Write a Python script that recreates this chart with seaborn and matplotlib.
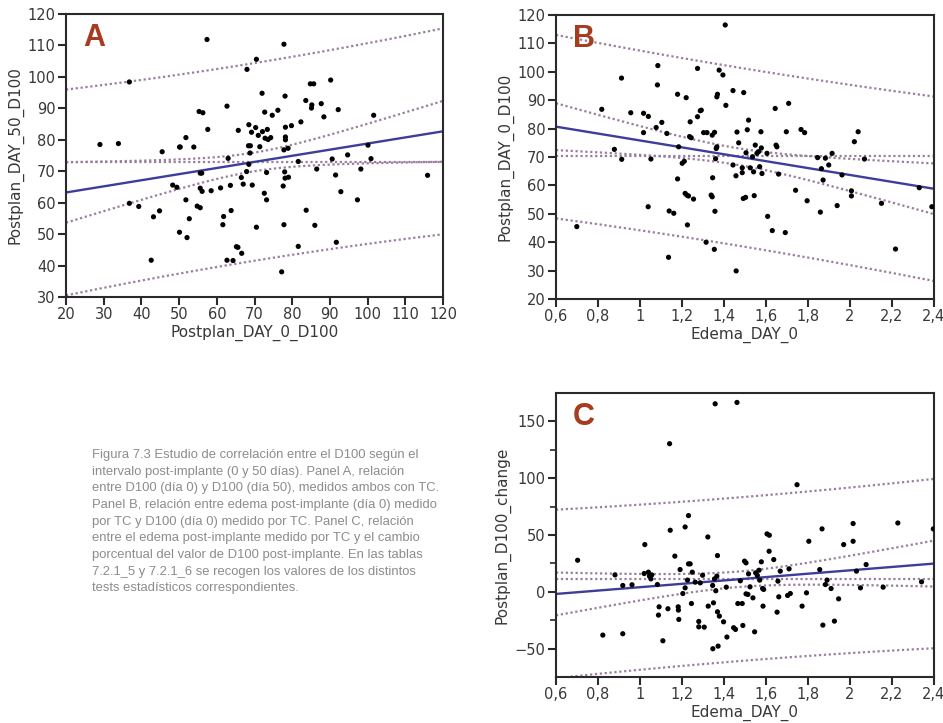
import numpy as np
import pandas as pd
import matplotlib
matplotlib.use("Agg")
import matplotlib.pyplot as plt
import seaborn as sns

# ---- Panel A: D100 day 0 vs D100 day 50 ----
a_day0 = [29.0, 33.9, 36.8, 36.8, 39.3, 42.6, 43.2, 44.8, 45.5, 48.3, 49.4, 50.1, 50.3, 50.1,
          51.8, 51.8, 52.1, 52.7, 53.9, 54.8, 55.6, 55.3, 56.3, 55.6, 56.0, 55.6, 56.1, 57.4,
          57.6, 58.5, 61.0, 61.6, 61.8, 62.7, 63.0, 62.7, 63.6, 63.8, 64.3, 65.2, 65.6, 65.7,
          66.5, 66.6, 67.0, 67.9, 68.0, 68.5, 68.4, 68.9, 68.8, 68.5, 69.2, 69.4, 70.3, 70.5,
          70.5, 71.0, 71.4, 72.0, 72.1, 72.6, 72.7, 72.8, 73.2, 73.2, 73.4, 73.6, 74.3, 74.7,
          76.2, 77.2, 77.6, 77.8, 77.8, 77.8, 78.1, 78.2, 78.2, 78.2, 78.0, 78.1, 78.9, 79.0,
          79.8, 81.6, 81.6, 82.3, 83.6, 83.7, 84.8, 85.7, 85.2, 85.1, 86.0, 86.5, 87.7, 88.4,
          90.2, 90.6, 91.5, 91.7, 92.2, 92.9, 94.7, 97.3, 98.2, 100.1, 100.9, 101.6, 115.9]
a_day50 = [78.5, 78.8, 98.4, 59.8, 58.8, 41.7, 55.5, 57.4, 76.2, 65.6, 64.9, 77.7, 77.7, 50.6,
           80.7, 60.9, 48.9, 54.9, 77.7, 58.9, 58.4, 89.0, 88.6, 69.4, 69.4, 64.6, 63.6, 111.9,
           83.3, 63.8, 64.7, 53.0, 55.6, 90.7, 74.1, 41.7, 65.5, 57.5, 41.6, 46.0, 45.8, 83.0,
           68.0, 43.9, 65.9, 69.9, 102.4, 84.8, 78.1, 78.1, 75.8, 72.2, 82.4, 65.6, 83.9, 105.6,
           52.2, 81.4, 77.8, 94.8, 82.6, 63.0, 88.8, 80.5, 69.6, 60.9, 83.3, 80.1, 80.7, 87.8,
           89.4, 38.0, 65.3, 110.4, 76.8, 53.0, 93.9, 84.0, 80.9, 80.0, 69.8, 67.8, 77.3, 68.1,
           84.5, 73.1, 46.1, 85.7, 92.5, 57.6, 97.8, 97.8, 91.1, 90.1, 52.8, 70.7, 91.5, 87.3,
           99.0, 73.9, 68.8, 47.4, 89.6, 63.5, 75.2, 60.9, 70.7, 78.3, 74.0, 87.8, 68.7]

# ---- Panel B: oedema day 0 vs D100 day 0 ----
b_edema = [0.699, 0.818, 0.878, 0.912, 0.913, 0.956, 1.017, 1.017, 1.039, 1.040, 1.052, 1.077,
           1.085, 1.083, 1.104, 1.128, 1.136, 1.139, 1.161, 1.179, 1.179, 1.184, 1.201, 1.211,
           1.220, 1.215, 1.223, 1.231, 1.226, 1.239, 1.236, 1.244, 1.255, 1.274, 1.274, 1.287,
           1.292, 1.303, 1.319, 1.315, 1.344, 1.346, 1.339, 1.344, 1.355, 1.360, 1.354, 1.357,
           1.363, 1.366, 1.366, 1.369, 1.377, 1.395, 1.406, 1.409, 1.443, 1.443, 1.457, 1.458,
           1.462, 1.470, 1.487, 1.487, 1.494, 1.492, 1.503, 1.505, 1.511, 1.517, 1.525, 1.536,
           1.541, 1.544, 1.549, 1.557, 1.565, 1.570, 1.576, 1.578, 1.581, 1.605, 1.608, 1.630,
           1.644, 1.648, 1.652, 1.660, 1.692, 1.697, 1.708, 1.741, 1.767, 1.784, 1.796, 1.846,
           1.859, 1.864, 1.872, 1.883, 1.899, 1.915, 1.939, 1.962, 2.007, 2.007, 2.021, 2.039,
           2.069, 2.150, 2.217, 2.330, 2.390]
b_day0 = [45.5, 86.8, 72.7, 97.8, 69.2, 85.6, 85.4, 78.6, 52.5, 84.3, 69.3, 80.4,
          102.2, 95.4, 82.2, 78.3, 34.7, 51.0, 50.2, 92.1, 62.3, 73.6, 67.8, 68.5,
          90.9, 57.2, 56.6, 56.3, 46.1, 82.4, 77.2, 76.8, 55.2, 101.2, 84.2, 86.3,
          86.5, 78.6, 78.6, 40.0, 77.7, 62.7, 56.6, 56.0, 78.7, 69.4, 37.5, 50.9,
          73.0, 73.6, 91.2, 92.1, 100.6, 98.9, 116.5, 88.2, 93.4, 67.2, 63.4, 29.9,
          78.8, 75.0, 64.5, 66.2, 92.7, 55.4, 55.8, 71.5, 79.6, 83.0, 66.2, 70.1,
          64.8, 56.4, 74.2, 71.3, 71.9, 66.6, 78.9, 73.2, 64.2, 71.3, 49.1, 44.1,
          87.1, 74.2, 73.6, 64.0, 43.4, 78.9, 88.9, 58.3, 79.7, 78.6, 54.6, 69.8,
          50.6, 65.9, 61.9, 69.6, 67.2, 71.3, 52.9, 63.7, 58.1, 56.3, 75.4, 78.9,
          69.3, 53.7, 37.6, 59.2, 52.5]

# ---- Panel C: oedema day 0 vs percentage change of D100 ----
c_edema = [0.703, 0.823, 0.881, 0.918, 0.918, 0.962, 1.023, 1.020, 1.040, 1.045, 1.052, 1.056,
           1.083, 1.091, 1.088, 1.109, 1.133, 1.141, 1.144, 1.166, 1.182, 1.183, 1.185, 1.191,
           1.204, 1.215, 1.215, 1.226, 1.231, 1.231, 1.239, 1.245, 1.249, 1.263, 1.280, 1.280,
           1.287, 1.298, 1.306, 1.323, 1.325, 1.346, 1.347, 1.350, 1.355, 1.358, 1.361, 1.366,
           1.369, 1.369, 1.372, 1.378, 1.398, 1.411, 1.414, 1.446, 1.455, 1.462, 1.466, 1.478,
           1.487, 1.490, 1.498, 1.505, 1.505, 1.514, 1.517, 1.524, 1.538, 1.546, 1.551, 1.559,
           1.567, 1.570, 1.578, 1.584, 1.586, 1.589, 1.605, 1.616, 1.615, 1.637, 1.653, 1.657,
           1.661, 1.668, 1.703, 1.710, 1.716, 1.772, 1.793, 1.804, 1.748, 1.856, 1.867, 1.871,
           1.883, 1.891, 1.910, 1.926, 1.946, 1.970, 2.015, 2.015, 2.031, 2.050, 2.077, 2.158,
           2.228, 2.341, 2.397]
c_change = [27.8, -38.1, 14.9, 5.6, -36.9, 6.2, 41.6, 16.1, 17.3, 13.8, 11.4, 14.9,
            6.4, -13.2, -20.5, -43.1, -14.9, 130.4, 54.2, 31.4, -13.2, -16.1, -24.3, 19.6,
            -1.5, 57.1, 3.5, 10.3, 67.1, 24.6, 24.6, -10.3, 17.3, 8.5, -26.1, -30.8,
            7.9, 14.6, -31.1, 48.3, -12.6, 5.6, -50.1, -9.7, 11.4, 165.5, 0.9, 13.8,
            31.9, -17.6, -47.8, -21.4, -26.4, 4.1, -39.8, -31.6, -33.1, 166.7, -10.3, 9.7,
            -10.3, -29.6, 27.0, 25.5, -1.8, -2.3, 15.8, 4.4, -5.3, -35.2, 16.7, 14.4,
            19.0, 10.3, 26.4, 2.9, -12.6, 2.1, 51.0, 49.8, 35.7, 28.4, -17.9, 9.4,
            -4.4, 18.2, -3.2, 20.2, -1.5, -12.6, -0.9, 44.5, 94.3, 19.6, 55.4, -29.3,
            6.4, 10.3, 2.9, -25.8, -6.2, 41.6, 60.1, 44.5, 18.2, 3.5, 24.0, 4.1,
            60.6, 8.8, 55.4]

edema_ticks = [0.6, 0.8, 1.0, 1.2, 1.4, 1.6, 1.8, 2.0, 2.2, 2.4]
edema_tick_labels = ["0,6", "0,8", "1", "1,2", "1,4", "1,6", "1,8", "2", "2,2", "2,4"]

caption = ("Figura 7.3 Estudio de correlación entre el D100 según el\n"
           "intervalo post-implante (0 y 50 días). Panel A, relación\n"
           "entre D100 (día 0) y D100 (día 50), medidos ambos con TC.\n"
           "Panel B, relación entre edema post-implante (día 0) medido\n"
           "por TC y D100 (día 0) medido por TC. Panel C, relación\n"
           "entre el edema post-implante medido por TC y el cambio\n"
           "porcentual del valor de D100 post-implante. En las tablas\n"
           "7.2.1_5 y 7.2.1_6 se recogen los valores de los distintos\n"
           "tests estadísticos correspondientes.")

sns.set_style("ticks")
plt.rcParams["font.family"] = ["DejaVu Sans"]

INK = "#383838"
FIT = "#3d3d9c"
BAND = "#9a7e9e"
LETTER = "#a63c1f"


def fit_panel(ax, x, y, xlim, ylim, xlabel, ylabel, letter):
    df = pd.DataFrame({"x": x, "y": y})
    x = df["x"].to_numpy()
    y = df["y"].to_numpy()
    n = len(x)
    slope, intercept = np.polyfit(x, y, 1)
    resid = y - (intercept + slope * x)
    s = np.sqrt(np.sum(resid ** 2) / (n - 2))
    sxx = np.sum((x - x.mean()) ** 2)
    t = 1.982
    grid = np.linspace(xlim[0], xlim[1], 300)
    yhat = intercept + slope * grid
    se_fit = s * np.sqrt(1.0 / n + (grid - x.mean()) ** 2 / sxx)
    se_ind = s * np.sqrt(1.0 + 1.0 / n + (grid - x.mean()) ** 2 / sxx)

    dots = dict(color=BAND, lw=1.6, ls=(0, (1, 1.2)))
    ax.plot(grid, yhat + t * se_ind, **dots)
    ax.plot(grid, yhat - t * se_ind, **dots)
    ax.plot(grid, yhat + t * se_fit, **dots)
    ax.plot(grid, yhat - t * se_fit, **dots)
    ax.plot(xlim, [y.mean(), y.mean()], **dots)
    sns.lineplot(x=grid, y=yhat, ax=ax, color=FIT, lw=1.7)
    sns.scatterplot(data=df, x="x", y="y", ax=ax, color="black", s=14,
                    edgecolor="none", zorder=5)

    ax.set_xlim(*xlim)
    ax.set_ylim(*ylim)
    ax.set_xlabel(xlabel, fontsize=11, color=INK, labelpad=2)
    ax.set_ylabel(ylabel, fontsize=11, color=INK, labelpad=3)
    for side in ax.spines.values():
        side.set_color("#2a2a2a")
        side.set_linewidth(1.5)
    ax.tick_params(axis="both", which="major", length=6, width=1.5,
                   color="#2a2a2a", labelsize=10.5, labelcolor=INK, pad=1.5)
    ax.tick_params(axis="both", which="minor", length=4, width=1.2, color="#2a2a2a")
    ax.text(0.045, 0.97, letter, transform=ax.transAxes, ha="left", va="top",
            fontsize=22, fontweight="bold", color=LETTER, family="Liberation Sans")


fig = plt.figure(figsize=(9.43, 7.23), dpi=100)
ax_a = fig.add_axes([0.0700, 0.5892, 0.3998, 0.3914])
ax_b = fig.add_axes([0.5896, 0.5864, 0.4008, 0.3928])
ax_c = fig.add_axes([0.5896, 0.0636, 0.4008, 0.3928])

fit_panel(ax_a, a_day0, a_day50, (20, 120), (30, 120),
          "Postplan_DAY_0_D100", "Postplan_DAY_50_D100", "A")
ax_a.set_xticks(np.arange(20, 121, 10))
ax_a.set_yticks(np.arange(30, 121, 10))

fit_panel(ax_b, b_edema, b_day0, (0.6, 2.4), (20, 120),
          "Edema_DAY_0", "Postplan_DAY_0_D100", "B")
ax_b.set_xticks(edema_ticks)
ax_b.set_xticklabels(edema_tick_labels)
ax_b.set_yticks(np.arange(20, 121, 10))

fit_panel(ax_c, c_edema, c_change, (0.6, 2.4), (-75, 175),
          "Edema_DAY_0", "Postplan_D100_change", "C")
ax_c.set_xticks(edema_ticks)
ax_c.set_xticklabels(edema_tick_labels)
ax_c.set_yticks([-50, 0, 50, 100, 150])
ax_c.set_yticks([-25, 25, 75, 125], minor=True)

fig.text(92 / 943, 1 - 449 / 723, caption, ha="left", va="top", fontsize=9.4,
         color="#8c8c8c", family="Liberation Sans", linespacing=1.52)

fig.savefig("out.png", dpi=100)
